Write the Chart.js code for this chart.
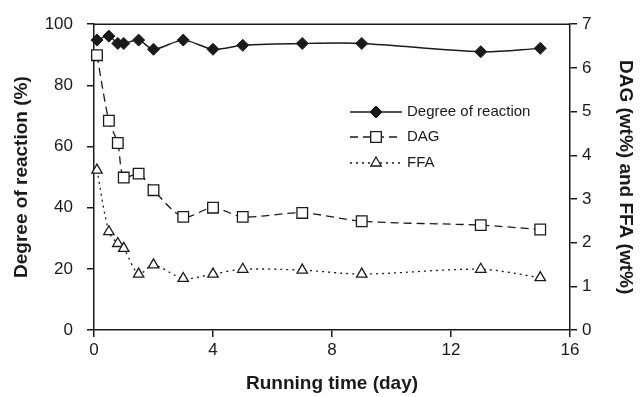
<!DOCTYPE html>
<html>
<head>
<meta charset="utf-8">
<script src="https://cdn.jsdelivr.net/npm/chart.js@4"></script>
<style>
  html, body { margin: 0; padding: 0; background: #fff; }
  #wrap { width: 644px; height: 397px; }
</style>
</head>
<body>
<div id="wrap"><canvas id="myChart" width="644" height="397"></canvas></div>
<script>
"use strict";

// Running time (day)
const days = [0.1, 0.5, 0.8, 1, 1.5, 2, 3, 4, 5, 7, 9, 13, 15];
// Degree of reaction (%) - left axis
const degreeOfReaction = [94.8, 96.1, 93.7, 93.7, 94.8, 91.8, 94.8, 91.8, 93.1, 93.7, 93.7, 91.0, 92.1];
// DAG and FFA (wt%) - right axis
const dag = [6.29, 4.79, 4.28, 3.49, 3.58, 3.2, 2.59, 2.8, 2.59, 2.68, 2.49, 2.4, 2.3];
const ffa = [3.66, 2.25, 1.98, 1.87, 1.28, 1.49, 1.18, 1.28, 1.39, 1.37, 1.28, 1.39, 1.2];

const xTicks = [0, 4, 8, 12, 16];
const leftTicks = [0, 20, 40, 60, 80, 100];
const rightTicks = [0, 1, 2, 3, 4, 5, 6, 7];

const toPoints = (vals) => vals.map((v, i) => ({ x: days[i], y: v }));

const FONT = "'Liberation Sans', Arial, sans-serif";
const INK = "#1a1a1a";

// top border of the plot box
const boxTop = {
  id: "boxTop",
  afterDraw(chart) {
    const { ctx, chartArea } = chart;
    ctx.save();
    ctx.strokeStyle = INK;
    ctx.lineWidth = 1.5;
    ctx.beginPath();
    ctx.moveTo(chartArea.left, chartArea.top);
    ctx.lineTo(chartArea.right, chartArea.top);
    ctx.stroke();
    ctx.restore();
  }
};

// legend drawn inside the plot, with line sample + marker
const innerLegend = {
  id: "innerLegend",
  afterDraw(chart) {
    const { ctx } = chart;
    const x0 = 350, x1 = 402, rows = [112, 137, 163];
    ctx.save();
    chart.data.datasets.forEach((ds, i) => {
      const y = rows[i];
      ctx.strokeStyle = ds.borderColor;
      ctx.lineWidth = ds.borderWidth;
      ctx.setLineDash(ds.borderDash || []);
      ctx.beginPath();
      ctx.moveTo(x0, y);
      ctx.lineTo(x1, y);
      ctx.stroke();
      ctx.setLineDash([]);
      ctx.fillStyle = ds.pointBackgroundColor;
      ctx.strokeStyle = ds.pointBorderColor;
      ctx.lineWidth = ds.pointBorderWidth;
      Chart.helpers.drawPoint(ctx, { pointStyle: ds.pointStyle, radius: ds.pointRadius, borderWidth: ds.pointBorderWidth }, (x0 + x1) / 2, y);
      ctx.fillStyle = INK;
      ctx.font = "15px " + FONT;
      ctx.textBaseline = "middle";
      ctx.fillText(ds.label, x1 + 5, y);
    });
    ctx.restore();
  }
};

const data = {
  datasets: [
    {
      label: "Degree of reaction",
      data: toPoints(degreeOfReaction),
      yAxisID: "y",
      borderColor: INK,
      borderWidth: 1.4,
      pointStyle: "rectRot",
      pointRadius: 6,
      pointBackgroundColor: INK,
      pointBorderColor: INK,
      pointBorderWidth: 1,
      tension: 0.3,
    },
    {
      label: "DAG",
      data: toPoints(dag),
      yAxisID: "y2",
      borderColor: INK,
      borderWidth: 1.3,
      borderDash: [8, 5],
      pointStyle: "rect",
      pointRadius: 7.5,
      pointBackgroundColor: "#fff",
      pointBorderColor: INK,
      pointBorderWidth: 1.3,
      tension: 0.3,
    },
    {
      label: "FFA",
      data: toPoints(ffa),
      yAxisID: "y2",
      borderColor: INK,
      borderWidth: 1.3,
      borderDash: [2, 4],
      pointStyle: "triangle",
      pointRadius: 6,
      pointBackgroundColor: "#fff",
      pointBorderColor: INK,
      pointBorderWidth: 1.3,
      tension: 0.3,
    },
  ],
};

const config = {
  type: "scatter",
  data: data,
  options: {
    responsive: false,
    animation: false,
    layout: { padding: { top: 24, left: 0, right: 0, bottom: 0 } },
    elements: { line: { fill: false } },
    datasets: { scatter: { showLine: true, clip: false } },
    plugins: {
      legend: { display: false },
      tooltip: { enabled: false },
    },
    scales: {
      x: {
        type: "linear",
        min: 0, max: 16,
        afterBuildTicks: (s) => { s.ticks = xTicks.map(v => ({ value: v })); },
        afterFit: (s) => { s.height = 67; },
        border: { display: true, color: INK, width: 1.5 },
        grid: { drawOnChartArea: false, drawTicks: true, tickLength: 7, tickColor: INK, lineWidth: 1.5 },
        ticks: { color: INK, font: { family: FONT, size: 17 }, padding: 3 },
        title: { display: true, text: "Running time (day)", color: INK, font: { family: FONT, size: 19, weight: "bold" }, padding: { top: 0, bottom: 2 } },
      },
      y: {
        position: "left",
        min: 0, max: 100,
        afterBuildTicks: (s) => { s.ticks = leftTicks.map(v => ({ value: v })); },
        afterFit: (s) => { s.width = 94; },
        border: { display: true, color: INK, width: 1.5 },
        grid: { drawOnChartArea: false, drawTicks: true, tickLength: 7, tickColor: INK, lineWidth: 1.5 },
        ticks: { color: INK, font: { family: FONT, size: 17 }, padding: 14 },
        title: { display: true, text: "Degree of reaction (%)", color: INK, font: { family: FONT, size: 19, weight: "bold" }, padding: { top: 10, bottom: 0 } },
      },
      y2: {
        position: "right",
        min: 0, max: 7,
        afterBuildTicks: (s) => { s.ticks = rightTicks.map(v => ({ value: v })); },
        afterFit: (s) => { s.width = 74; },
        border: { display: true, color: INK, width: 1.5 },
        grid: { drawOnChartArea: false, drawTicks: true, tickLength: 7, tickColor: INK, lineWidth: 1.5 },
        ticks: { color: INK, font: { family: FONT, size: 17 }, padding: 5 },
        title: { display: true, text: "DAG (wt%) and FFA (wt%)", color: INK, font: { family: FONT, size: 19, weight: "bold" }, padding: { top: 7, bottom: 0 } },
      },
    },
  },
  plugins: [boxTop, innerLegend],
};

const myChart = new Chart(document.getElementById("myChart"), config);
</script>
</body>
</html>
